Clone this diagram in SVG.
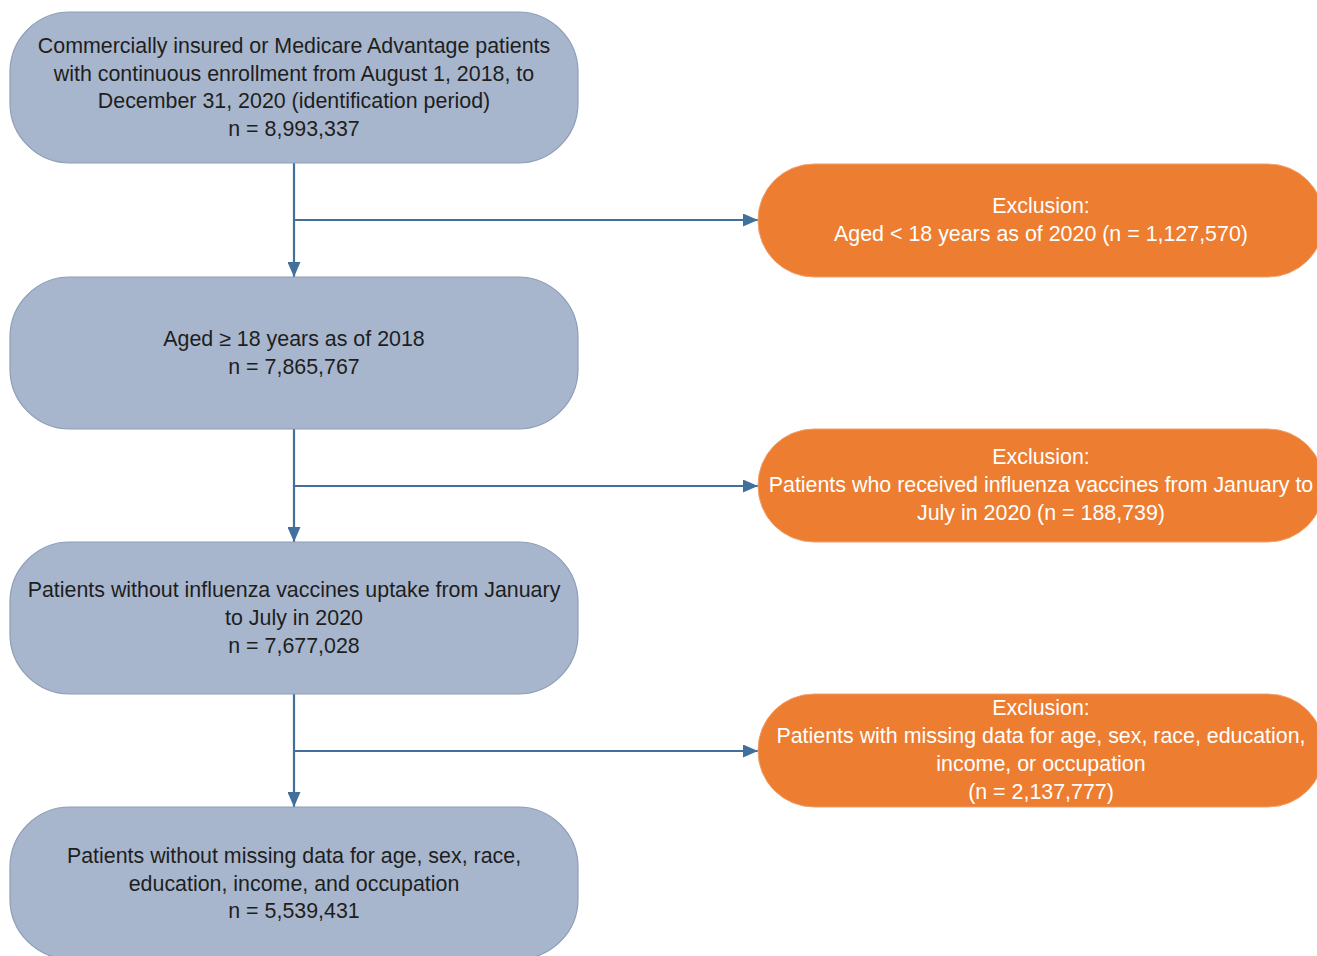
<svg xmlns="http://www.w3.org/2000/svg" width="1317" height="956" viewBox="0 0 1317 956">
<defs>
<style>
.blue{fill:#A7B6CD;stroke:#8C9DB6;stroke-width:1.2}
.orange{fill:#ED7D31;stroke:#F0A06A;stroke-width:1}
.t{font-family:"Liberation Sans",Arial,sans-serif;font-size:21.4px;text-anchor:middle;fill:#1E1E1E}
.w{fill:#FFFFFF}
.c{stroke:#41709C;stroke-width:2.2;fill:none}
</style>
<marker id="ah" viewBox="0 0 15 13" refX="15" refY="6.5" markerWidth="15" markerHeight="13" markerUnits="userSpaceOnUse" orient="auto">
<path d="M0,0 L15,6.5 L0,13 Z" fill="#41709C"/>
</marker>
</defs>
<rect width="1317" height="956" fill="#FFFFFF"/>
<g id="connectors">
<line class="c" x1="294" y1="163" x2="294" y2="277" marker-end="url(#ah)"/>
<line class="c" x1="294" y1="220" x2="758" y2="220" marker-end="url(#ah)"/>
<line class="c" x1="294" y1="429" x2="294" y2="542" marker-end="url(#ah)"/>
<line class="c" x1="294" y1="486" x2="758" y2="486" marker-end="url(#ah)"/>
<line class="c" x1="294" y1="694" x2="294" y2="807" marker-end="url(#ah)"/>
<line class="c" x1="294" y1="751" x2="758" y2="751" marker-end="url(#ah)"/>
</g>
<g id="box1">
<rect class="blue" x="10" y="12" width="568" height="151" rx="60" ry="60"/>
<text class="t" x="294" y="53">Commercially insured or Medicare Advantage patients</text>
<text class="t" x="294" y="81">with continuous enrollment from August 1, 2018, to</text>
<text class="t" x="294" y="108">December 31, 2020 (identification period)</text>
<text class="t" x="294" y="136">n = 8,993,337</text>
</g>
<g id="excl1">
<rect class="orange" x="758" y="164" width="566" height="113" rx="56" ry="56"/>
<text class="t w" x="1041" y="213">Exclusion:</text>
<text class="t w" x="1041" y="241">Aged &lt; 18 years as of 2020 (n = 1,127,570)</text>
</g>
<g id="box2">
<rect class="blue" x="10" y="277" width="568" height="152" rx="60" ry="60"/>
<text class="t" x="294" y="346">Aged ≥ 18 years as of 2018</text>
<text class="t" x="294" y="374">n = 7,865,767</text>
</g>
<g id="excl2">
<rect class="orange" x="758" y="429" width="566" height="113" rx="56" ry="56"/>
<text class="t w" x="1041" y="464">Exclusion:</text>
<text class="t w" x="1041" y="492">Patients who received influenza vaccines from January to</text>
<text class="t w" x="1041" y="520">July in 2020 (n = 188,739)</text>
</g>
<g id="box3">
<rect class="blue" x="10" y="542" width="568" height="152" rx="60" ry="60"/>
<text class="t" x="294" y="597">Patients without influenza vaccines uptake from January</text>
<text class="t" x="294" y="625">to July in 2020</text>
<text class="t" x="294" y="653">n = 7,677,028</text>
</g>
<g id="excl3">
<rect class="orange" x="758" y="694" width="566" height="113" rx="56" ry="56"/>
<text class="t w" x="1041" y="715">Exclusion:</text>
<text class="t w" x="1041" y="743">Patients with missing data for age, sex, race, education,</text>
<text class="t w" x="1041" y="771">income, or occupation</text>
<text class="t w" x="1041" y="799">(n = 2,137,777)</text>
</g>
<g id="box4">
<rect class="blue" x="10" y="807" width="568" height="152" rx="60" ry="60"/>
<text class="t" x="294" y="863">Patients without missing data for age, sex, race,</text>
<text class="t" x="294" y="891">education, income, and occupation</text>
<text class="t" x="294" y="918">n = 5,539,431</text>
</g>
</svg>
